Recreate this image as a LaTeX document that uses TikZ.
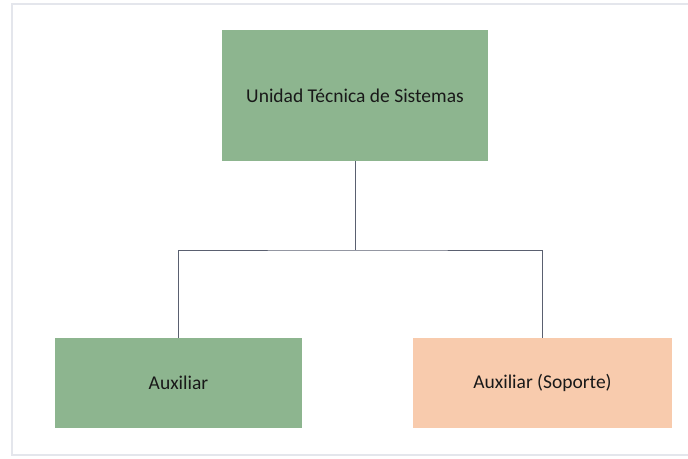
\documentclass[tikz,border=0pt]{standalone}
\usepackage{fontspec}
\setmainfont{Carlito}
\usepackage{tikz}
\usetikzlibrary{positioning}

\definecolor{boxgreen}{HTML}{8DB58F}
\definecolor{boxpeach}{HTML}{F8CBAD}
\definecolor{linkgray}{HTML}{5A6070}
\definecolor{framegray}{HTML}{E4E6EC}

\tikzset{
  unit/.style={rectangle,inner sep=0pt,font=\fontsize{19.5}{22}\selectfont,text=black!90},
  link/.style={draw=linkgray,line width=1pt}
}

\begin{document}
\begin{tikzpicture}[x=1pt,y=-1pt]
            \useasboundingbox (0,0) rectangle (688,458);
            \draw[framegray,line width=1.2pt] (688,4) -- (12,4) -- (12,455) -- (688,455);

            \node[unit,fill=boxgreen,minimum width=266,minimum height=131] (UTS) at (355,95.5) {Unidad Técnica de Sistemas};
            \node[unit,fill=boxgreen,minimum width=247,minimum height=90] (AUX) at (178.5,383) {Auxiliar};
            \node[unit,fill=boxpeach,minimum width=259,minimum height=90] (SOP) at (542.5,383) {Auxiliar (Soporte)};

            \coordinate (split) at (355,250);

            \draw[link] (UTS.south) -- (split);
            \draw[link] (AUX.north) |- (split) -| (SOP.north);
          \end{tikzpicture}
\end{document}
